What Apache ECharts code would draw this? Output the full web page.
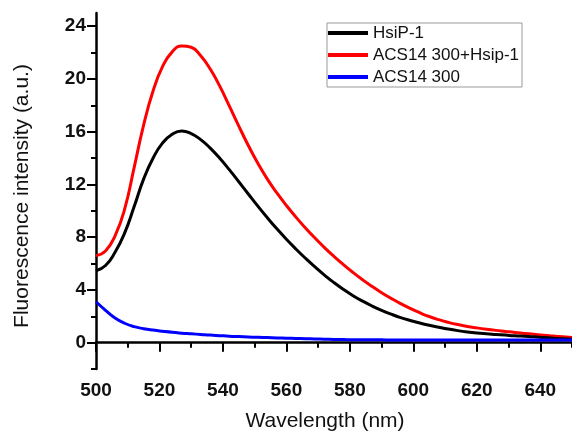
<!DOCTYPE html>
<html><head><meta charset="utf-8">
<script src="https://cdn.jsdelivr.net/npm/echarts@6/dist/echarts.min.js"></script>
<style>html,body{margin:0;padding:0;background:#fff}#c{width:572px;height:432px}</style>
</head><body><div id="c"></div>
<script>
var wavelength = [500,503,506,509,512,515,518,521,524,527,530,533,536,539,542,545,548,551,554,557,560,563,566,569,572,575,578,581,584,587,590,593,596,599,602,605,608,611,614,617,620,623,626,629,632,635,638,641,644,647,650];
var hsip = [5.45,5.85,6.85,8.3,10.3,12.4,14.0,15.15,15.8,16.05,15.85,15.4,14.75,13.98,13.12,12.2,11.27,10.35,9.47,8.63,7.84,7.1,6.4,5.74,5.12,4.55,4.03,3.56,3.15,2.78,2.45,2.16,1.9,1.68,1.49,1.32,1.17,1.03,0.91,0.81,0.73,0.67,0.62,0.57,0.52,0.48,0.44,0.39,0.34,0.29,0.25];
var acsHsip = [6.6,6.95,8.1,10.1,13.25,16.5,19.1,20.95,22.05,22.5,22.4,21.75,20.75,19.45,17.95,16.42,14.95,13.6,12.4,11.35,10.4,9.52,8.7,7.93,7.21,6.54,5.91,5.32,4.77,4.26,3.79,3.36,2.96,2.6,2.27,1.98,1.74,1.54,1.37,1.23,1.12,1.02,0.93,0.85,0.77,0.7,0.63,0.56,0.5,0.44,0.38];
var acs = [3.1,2.45,1.86,1.47,1.21,1.06,0.95,0.86,0.78,0.72,0.67,0.62,0.57,0.53,0.49,0.46,0.43,0.4,0.38,0.36,0.34,0.32,0.3,0.28,0.26,0.24,0.23,0.22,0.22,0.21,0.21,0.2,0.2,0.2,0.2,0.2,0.2,0.2,0.2,0.2,0.2,0.2,0.2,0.2,0.2,0.2,0.2,0.2,0.2,0.2,0.2];
var xMajor = [500,520,540,560,580,600,620,640];
var xMinor = [510,530,550,570,590,610,630,650];
var yMajor = [0,4,8,12,16,20,24];
var yMinor = [-2,2,6,10,14,18,22];
var seriesNames = ['HsiP-1','ACS14 300+Hsip-1','ACS14 300'];

function pairs(xs, ys){ return xs.map(function(x,i){return [x, ys[i]];}); }
var font = 'Liberation Sans, Arial, sans-serif';
var lineAxis = {show:true, lineStyle:{color:'#000', width:2.5}};
var chart = echarts.init(document.getElementById('c'));
chart.setOption({
  animation:false,
  grid:{left:96, right:0, top:13, bottom:63, containLabel:false, outerBoundsMode:'none'},
  legend:{
    data:seriesNames, orient:'vertical', left:327, top:23,
    itemWidth:40, itemHeight:4, itemGap:4, icon:'rect',
    borderColor:'#999', borderWidth:1, padding:[1,3,1,1],
    textStyle:{fontFamily:font, fontSize:17, color:'#111', lineHeight:18},
    backgroundColor:'#fff'
  },
  xAxis:[{
    type:'value', min:500, max:650,
    name:'Wavelength (nm)', nameLocation:'middle', nameGap:42,
    nameTextStyle:{fontFamily:font, fontSize:21, color:'#111', padding:[0,18,0,0]},
    axisLine:lineAxis,
    axisTick:{show:true, inside:false, length:9, customValues:xMajor, lineStyle:{color:'#000', width:2}},
    axisLabel:{customValues:xMajor, fontFamily:font, fontSize:19, fontWeight:'bold', color:'#111', margin:12},
    splitLine:{show:false}
  },{
    type:'value', min:500, max:650, position:'bottom',
    axisLine:{show:false},
    axisTick:{show:true, length:5, customValues:xMinor, lineStyle:{color:'#000', width:2}},
    axisLabel:{show:false}, splitLine:{show:false}
  }],
  yAxis:[{
    type:'value', min:-2, max:25,
    name:'Fluorescence intensity (a.u.)', nameLocation:'middle', nameGap:63,
    nameTextStyle:{fontFamily:font, fontSize:21, color:'#111', padding:[0,10,0,0]},
    axisLine:lineAxis,
    axisTick:{show:true, length:9, customValues:yMajor, lineStyle:{color:'#000', width:2}},
    axisLabel:{customValues:yMajor, fontFamily:font, fontSize:19, fontWeight:'bold', color:'#111', margin:10},
    splitLine:{show:false}
  },{
    type:'value', min:-2, max:25, position:'left',
    axisLine:{show:false},
    axisTick:{show:true, length:5, customValues:yMinor, lineStyle:{color:'#000', width:2}},
    axisLabel:{show:false}, splitLine:{show:false}
  }],
  series:[
    {name:seriesNames[0], type:'line', smooth:true, showSymbol:false, data:pairs(wavelength,hsip), color:'#000', lineStyle:{width:3, color:'#000'}, z:3},
    {name:seriesNames[1], type:'line', smooth:true, showSymbol:false, data:pairs(wavelength,acsHsip), color:'#f00', lineStyle:{width:3, color:'#f00'}, z:2},
    {name:seriesNames[2], type:'line', smooth:true, showSymbol:false, data:pairs(wavelength,acs), color:'#00f', lineStyle:{width:3, color:'#00f'}, z:4}
  ]
});
</script></body></html>
